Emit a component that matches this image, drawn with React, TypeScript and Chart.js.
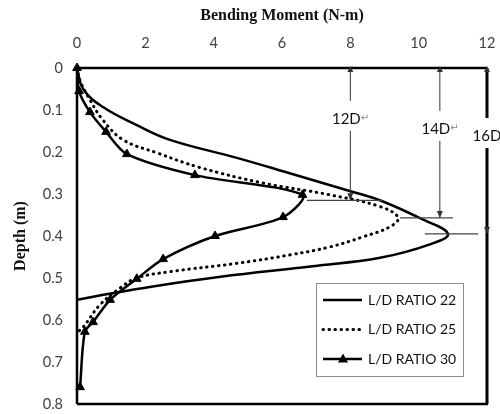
import React, { useEffect, useRef } from "react";
import { Chart, registerables } from "chart.js";

Chart.register(...registerables);

// ---- data ----
const xTicks = [0, 2, 4, 6, 8, 10, 12];
const yTicks = [0, 0.1, 0.2, 0.3, 0.4, 0.5, 0.6, 0.7, 0.8];
const xTitle = "Bending Moment (N-m)";
const yTitle = "Depth (m)";
const seriesLabels = ["L/D RATIO 22", "L/D RATIO 25", "L/D RATIO 30"];

const ratio22Moment = [0, 0.18, 0.76, 1.75, 2.72, 4.68, 6.2, 8.03, 8.9, 10.1, 10.86, 10.33, 8.87, 6.9, 4.2, 2.22, 0.77, 0];
const ratio22Depth = [0, 0.05, 0.093, 0.136, 0.171, 0.214, 0.25, 0.294, 0.316, 0.36, 0.395, 0.42, 0.452, 0.472, 0.497, 0.52, 0.54, 0.552];

const ratio25Moment = [0, 0.09, 0.38, 0.76, 1.35, 2.34, 3.6, 5.45, 7.4, 8.87, 9.4, 9.16, 8.37, 7.4, 6.23, 4.68, 2.72, 1.75, 1.26, 0.67, 0.18, 0];
const ratio25Depth = [0, 0.03, 0.076, 0.124, 0.171, 0.202, 0.237, 0.274, 0.302, 0.33, 0.356, 0.378, 0.402, 0.426, 0.445, 0.465, 0.485, 0.5, 0.524, 0.564, 0.617, 0.63];

const ratio30Moment = [0, 0.06, 0.38, 0.85, 1.46, 3.45, 6.6, 6.03, 4.04, 2.52, 1.75, 0.97, 0.47, 0.23, 0.09];
const ratio30Depth = [0, 0.055, 0.105, 0.152, 0.205, 0.255, 0.302, 0.355, 0.4, 0.455, 0.502, 0.552, 0.605, 0.628, 0.76];

// embedment-length annotations
const markerLabels = ["12D\u21b5", "14D\u21b5", "16D"];
const markerMoment = [8, 10.62, 12];
const markerDepth = [0.315, 0.357, 0.395];
const markerLabelDepth = [0.121, 0.145, 0.162];
const markerBarFrom = [6.73, 9.45, 10.18];
const markerBarTo = [8.93, 11.0, 11.74];

const toPoints = (xs: number[], ys: number[]) => xs.map((x, i) => ({ x, y: ys[i] }));

const tickFont = { family: "Lato, 'Open Sans', sans-serif", size: 14.5 };
const tickColor = "#404040";
const titleFont = { family: "'Liberation Serif', serif", size: 16, weight: "bold" };

const framePlugin = {
  id: "frameAndNotes",
  afterDatasetsDraw(chart: any) {
    const { ctx, chartArea: a, scales } = chart;
    const xs = scales.x;
    const ys = scales.y;
    ctx.save();
    ctx.strokeStyle = "#000";
    ctx.lineWidth = 2.5;
    ctx.beginPath();
    ctx.moveTo(a.left, a.bottom);
    ctx.lineTo(a.left, a.top);
    ctx.lineTo(a.right, a.top);
    ctx.moveTo(a.left, a.bottom);
    ctx.lineTo(a.right + 1, a.bottom);
    ctx.stroke();

    for (let i = 0; i < markerLabels.length; i++) {
      const px = xs.getPixelForValue(markerMoment[i]);
      const top = ys.getPixelForValue(0);
      const ay = ys.getPixelForValue(markerDepth[i]);
      const ly = ys.getPixelForValue(markerLabelDepth[i]);
      const last = i === markerLabels.length - 1;
      ctx.strokeStyle = last ? "#000" : "#333";
      ctx.lineWidth = last ? 3 : 1;
      ctx.beginPath();
      ctx.moveTo(px, top);
      ctx.lineTo(px, ly - 18);
      ctx.moveTo(px, ly + 12);
      ctx.lineTo(px, last ? a.bottom : ay);
      ctx.stroke();
      ctx.fillStyle = "#333";
      ctx.beginPath();
      ctx.moveTo(px, ay);
      ctx.lineTo(px - 3, ay - 7);
      ctx.lineTo(px + 3, ay - 7);
      ctx.closePath();
      ctx.fill();
      ctx.beginPath();
      ctx.moveTo(px, top - 2);
      ctx.lineTo(px - 3, top + 4);
      ctx.lineTo(px + 3, top + 4);
      ctx.closePath();
      ctx.fill();
      ctx.strokeStyle = "#444";
      ctx.lineWidth = 1.2;
      ctx.beginPath();
      ctx.moveTo(xs.getPixelForValue(markerBarFrom[i]), ay);
      ctx.lineTo(xs.getPixelForValue(markerBarTo[i]), ay);
      ctx.stroke();
      ctx.font = "15px Lato, 'DejaVu Sans', sans-serif";
      ctx.fillStyle = "#111";
      ctx.textAlign = "center";
      ctx.textBaseline = "middle";
      const txt = markerLabels[i];
      if (txt.endsWith("\u21b5")) {
        const base = txt.slice(0, -1);
        const w = ctx.measureText(base).width;
        ctx.textAlign = "left";
        ctx.fillText(base, px - w / 2 - 4, ly);
        ctx.font = "10px 'DejaVu Sans', sans-serif";
        ctx.fillStyle = "#888";
        ctx.fillText("\u21b5", px + w / 2 - 4, ly);
      } else {
        ctx.fillText(txt, px, ly);
      }
    }
    ctx.restore();
  },
  afterDraw(chart: any) {
    const { ctx } = chart;
    const bx = 316, by = 283, bw = 147, bh = 93;
    ctx.save();
    ctx.fillStyle = "#fff";
    ctx.fillRect(bx, by, bw, bh);
    ctx.strokeStyle = "#8c8c8c";
    ctx.lineWidth = 1;
    ctx.strokeRect(bx + 0.5, by + 0.5, bw, bh);
    chart.data.datasets.forEach((ds: any, i: number) => {
      const cy = by + 17 + i * 29.5;
      ctx.strokeStyle = ds.borderColor;
      ctx.lineWidth = ds.borderWidth;
      ctx.lineCap = ds.borderCapStyle || "butt";
      ctx.setLineDash(ds.borderDash || []);
      ctx.beginPath();
      ctx.moveTo(bx + 7, cy);
      ctx.lineTo(bx + 46, cy);
      ctx.stroke();
      ctx.setLineDash([]);
      if (ds.pointStyle === "triangle") {
        const r = 5;
        const mx = bx + 27;
        ctx.fillStyle = "#000";
        ctx.beginPath();
        ctx.moveTo(mx, cy - r * 1.1);
        ctx.lineTo(mx - r, cy + r * 0.7);
        ctx.lineTo(mx + r, cy + r * 0.7);
        ctx.closePath();
        ctx.fill();
      }
      ctx.fillStyle = "#111";
      ctx.font = "14px Lato, 'Open Sans', sans-serif";
      ctx.textAlign = "left";
      ctx.textBaseline = "middle";
      ctx.fillText(ds.label, bx + 52, cy);
    });
    ctx.restore();
  },
};

export default function App() {
  const ref = useRef<HTMLCanvasElement | null>(null);
  useEffect(() => {
    if (!ref.current) return;
    const chart = new Chart(ref.current, {
      type: "scatter",
      data: {
        datasets: [
          {
            label: seriesLabels[0],
            data: toPoints(ratio22Moment, ratio22Depth),
            showLine: true,
            borderColor: "#000",
            borderWidth: 2.5,
            pointRadius: 0,
            tension: 0.4,
            clip: false,
          },
          {
            label: seriesLabels[1],
            data: toPoints(ratio25Moment, ratio25Depth),
            showLine: true,
            borderColor: "#000",
            borderWidth: 3,
            borderDash: [0.5, 5.5],
            borderCapStyle: "round",
            pointRadius: 0,
            tension: 0.4,
            clip: false,
          },
          {
            label: seriesLabels[2],
            data: toPoints(ratio30Moment, ratio30Depth),
            showLine: true,
            borderColor: "#000",
            borderWidth: 2.5,
            pointStyle: "triangle",
            pointRadius: 5,
            pointBackgroundColor: "#000",
            pointBorderColor: "#000",
            pointBorderWidth: 1,
            tension: 0.3,
            clip: false,
          },
        ] as any,
      },
      options: {
        animation: false,
        responsive: true,
        maintainAspectRatio: false,
        layout: { padding: { left: 0, top: 0, right: 13, bottom: 10 } },
        plugins: { legend: { display: false }, tooltip: { enabled: false } },
        scales: {
          x: {
            type: "linear",
            position: "top",
            min: 0,
            max: 12,
            grid: { display: false, drawTicks: false },
            border: { display: false },
            afterBuildTicks: (s: any) => {
              s.ticks = xTicks.map((v) => ({ value: v }));
            },
            afterFit: (s: any) => {
              s.height = 68;
              s.paddingLeft = 0;
              s.paddingRight = 0;
            },
            ticks: {
              font: tickFont,
              color: tickColor,
              padding: 16,
              callback: (v: any) => String(v),
            },
            title: {
              display: true,
              text: xTitle,
              font: titleFont,
              color: "#111",
              padding: { top: 6, bottom: 0 },
            },
          },
          y: {
            type: "linear",
            reverse: true,
            min: 0,
            max: 0.8,
            grid: { display: false, drawTicks: false },
            border: { display: false },
            afterBuildTicks: (s: any) => {
              s.ticks = yTicks.map((v) => ({ value: v }));
            },
            afterFit: (s: any) => {
              s.width = 77;
              s.paddingTop = 0;
              s.paddingBottom = 0;
            },
            ticks: {
              font: tickFont,
              color: tickColor,
              padding: 14,
              callback: (v: any) => String(v),
            },
            title: {
              display: true,
              text: yTitle,
              font: titleFont,
              color: "#111",
              padding: { top: 11, bottom: 0 },
            },
          },
        },
      } as any,
      plugins: [framePlugin],
    });
    return () => chart.destroy();
  }, []);
  return (
    <div style={{ position: "fixed", left: 0, top: 0, width: 500, height: 414, background: "#fff" }}>
      <canvas ref={ref} />
    </div>
  );
}
